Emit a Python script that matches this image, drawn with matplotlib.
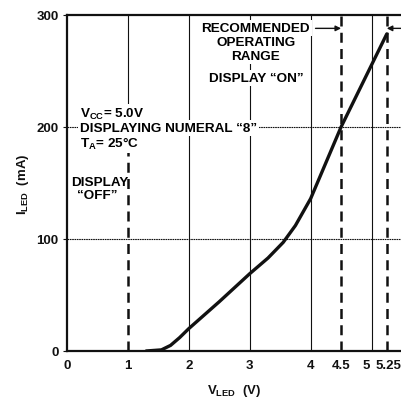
import matplotlib
matplotlib.use("Agg")
import matplotlib.pyplot as plt
from matplotlib.transforms import ScaledTranslation

plt.rcParams['font.family'] = ['Liberation Sans', 'DejaVu Sans']
plt.rcParams['font.weight'] = 'bold'
plt.rcParams['axes.labelweight'] = 'bold'
plt.rcParams['mathtext.fontset'] = 'custom'
plt.rcParams['mathtext.rm'] = 'Liberation Sans:bold'
plt.rcParams['mathtext.it'] = 'Liberation Sans:bold'
plt.rcParams['mathtext.bf'] = 'Liberation Sans:bold'

# LED supply current vs LED supply voltage
v_led = [1.3, 1.55, 1.7, 1.85, 2.0, 2.5, 3.0, 3.3, 3.55, 3.75, 4.0, 4.5, 5.25]
i_led = [0, 1, 5, 12, 20, 44, 69, 83, 97, 112, 136, 200, 283]

x_ticks = [0, 1, 2, 3, 4, 4.5, 5, 5.25]
x_tick_labels = ["0", "1", "2", "3", "4", "4.5", "5", "5.25"]
y_ticks = [0, 100, 200, 300]
y_tick_labels = ["0", "100", "200", "300"]

grid_x = [2, 3, 4, 5]
grid_y = [100, 200]
display_off_v = 1.0
range_lo, range_hi = 4.5, 5.25

fig = plt.figure(figsize=(4.02, 4.02), dpi=100)
ax = fig.add_axes([0.1667, 0.1244, 0.8333, 0.836])
ax.set_xlim(0, 5.5)
ax.set_ylim(0, 300)

ink = "#111111"

# thin grid
for gx in grid_x:
    ax.axvline(gx, color=ink, lw=0.8, zorder=1)
for gy in grid_y:
    ax.axhline(gy, color=ink, lw=0.8, ls=(0, (1.5, 0.6)), zorder=1)
ax.plot([display_off_v, display_off_v], [218, 300], color=ink, lw=0.8, zorder=1)

# dashed boundaries
dash = (0, (4, 2.5))
ax.plot([display_off_v, display_off_v], [0, 178], color=ink, lw=1.8, ls=dash, zorder=2)
ax.axvline(range_lo, color=ink, lw=1.8, ls=dash, zorder=2)
ax.axvline(range_hi, color=ink, lw=1.8, ls=dash, zorder=2)

# characteristic curve
ax.plot(v_led, i_led, color=ink, lw=2.4, solid_capstyle='round', zorder=3)

ax.spines['right'].set_visible(False)
for s in ['left', 'bottom', 'top']:
    ax.spines[s].set_linewidth(1.6)
    ax.spines[s].set_color(ink)

ax.set_xticks(x_ticks)
ax.set_xticklabels(x_tick_labels)
ax.set_yticks(y_ticks)
ax.set_yticklabels(y_tick_labels)
ax.tick_params(axis='both', labelsize=9.5, colors=ink, width=0.8)
ax.tick_params(axis='x', length=0, pad=6)
ax.tick_params(axis='y', length=3, pad=3)
for lab in ax.get_xticklabels() + ax.get_yticklabels():
    lab.set_fontweight('bold')

# keep the closely spaced "5" and "5.25" labels apart
nudges = {"5": -5, "5.25": 2}
for tick, txt in zip(ax.xaxis.get_major_ticks(), x_tick_labels):
    if txt in nudges:
        lab = tick.label1
        lab.set_transform(lab.get_transform() +
                          ScaledTranslation(nudges[txt] / 100, 0, fig.dpi_scale_trans))

ax.set_xlabel(r"$V_{LED}$  (V)", fontsize=9.5, labelpad=8, color=ink, fontweight='bold')
ax.set_ylabel(r"$I_{LED}$  (mA)", fontsize=9.5, labelpad=4, color=ink, fontweight='bold')

box = dict(facecolor='white', edgecolor='none', pad=1.5)
fs = 9.7
ax.text(0.21, 212, r"$V_{CC}$= 5.0V", fontsize=fs, va='center', ha='left', bbox=box, zorder=4)
ax.text(0.21, 199, "DISPLAYING NUMERAL \u201c8\u201d", fontsize=fs, va='center', ha='left', bbox=box, zorder=4)
ax.text(0.21, 186, r"$T_A$= 25°C", fontsize=fs, va='center', ha='left', bbox=box, zorder=4)

ax.text(0.06, 151, "DISPLAY", fontsize=fs, va='center', ha='left', zorder=4)
ax.text(0.49, 139, "\u201cOFF\u201d", fontsize=fs, va='center', ha='center', zorder=4)

cx = 3.1
ax.text(cx, 288, "RECOMMENDED", fontsize=fs, va='center', ha='center', bbox=box, zorder=4)
ax.text(cx, 276, "OPERATING", fontsize=fs, va='center', ha='center', bbox=box, zorder=4)
ax.text(cx, 263, "RANGE", fontsize=fs, va='center', ha='center', bbox=box, zorder=4)
ax.text(cx, 244, "DISPLAY \u201cON\u201d", fontsize=fs, va='center', ha='center', bbox=box, zorder=4)

arrow = dict(arrowstyle='-|>', color=ink, lw=1.0, mutation_scale=8, shrinkA=0, shrinkB=0)
ax.annotate("", xy=(range_lo, 288), xytext=(4.08, 288), arrowprops=arrow, zorder=4)
ax.annotate("", xy=(range_hi, 288), xytext=(5.5, 288), arrowprops=arrow, zorder=4)

fig.savefig("out.png", dpi=100)
